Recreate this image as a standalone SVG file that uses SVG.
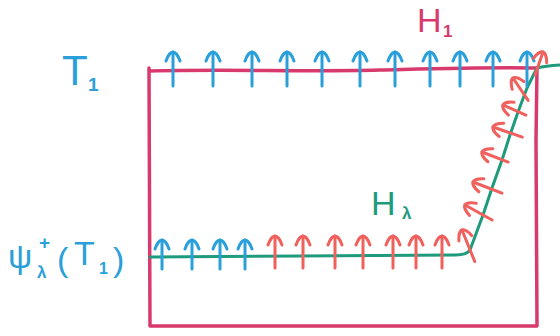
<svg xmlns="http://www.w3.org/2000/svg" xmlns:xlink="http://www.w3.org/1999/xlink" width="560" height="336" viewBox="0 0 560 336">
  <style>
    .ln { fill: none; stroke-linecap: round; stroke-linejoin: round; }
    .pink { stroke: #d93a6d; stroke-width: 3.5; }
    .green { stroke: #1e9a7c; stroke-width: 3; }
    .blue { stroke: #2b9fd9; stroke-width: 3; }
    .red { stroke: #f0605c; stroke-width: 3; }
    .lbl { font-family: "Liberation Sans", Arial, sans-serif; }
    .sub { font-weight: bold; }
    .tb { fill: #2b9fd9; }
    .tp { fill: #d93a6d; }
    .tg { fill: #1e9a7c; }
  </style>
  <defs>
    <!-- arrowhead with its tip at the origin, pointing up -->
    <path id="head" d="M-7,9 C-5,3 -2,0 0,0 C2,0 5,3 7,9"/>
    <!-- upward arrows of three lengths, tip at origin -->
    <g id="upLong"><use xlink:href="#head"/><line x1="0" y1="0" x2="0" y2="34"/></g>
    <g id="upShort"><use xlink:href="#head"/><line x1="0" y1="0" x2="0" y2="29"/></g>
    <g id="upMid"><use xlink:href="#head"/><line x1="0" y1="0" x2="0" y2="32"/></g>
  </defs>

  <rect width="560" height="336" fill="#ffffff"/>

  <!-- region boundary H1 -->
  <g id="H1-box" class="ln pink">
    <path d="M150,71 C230,69 300,72 380,70 S490,67 537,68 L536,140 L537,326 L150,326 L149,68"/>
  </g>

  <!-- level curve H_lambda -->
  <g id="connectors" class="ln green">
    <path d="M150,257 L300,256 L455,255 Q467,255 470,250 L483,215 L492,188 L502,160 L510,135 L518,112 L527,88 L537,68 Q545,66 560,65"/>
  </g>

  <!-- vector field along T1 (top edge) -->
  <g id="T1-arrows" class="ln blue">
    <use xlink:href="#upLong" transform="translate(173,52)"/>
    <use xlink:href="#upLong" transform="translate(213,52)"/>
    <use xlink:href="#upLong" transform="translate(252,52)"/>
    <use xlink:href="#upLong" transform="translate(287,52)"/>
    <use xlink:href="#upLong" transform="translate(322,52)"/>
    <use xlink:href="#upLong" transform="translate(360,52)"/>
    <use xlink:href="#upLong" transform="translate(395,52)"/>
    <use xlink:href="#upLong" transform="translate(430,52)"/>
    <use xlink:href="#upLong" transform="translate(460,52)"/>
    <use xlink:href="#upLong" transform="translate(493,52)"/>
    <use xlink:href="#upLong" transform="translate(527,52)"/>
  </g>

  <!-- image of T1 under the flow -->
  <g id="psiT1-arrows" class="ln blue">
    <use xlink:href="#upShort" transform="translate(162,240)"/>
    <use xlink:href="#upShort" transform="translate(192,240)"/>
    <use xlink:href="#upShort" transform="translate(220,240)"/>
    <use xlink:href="#upShort" transform="translate(245,240)"/>
  </g>

  <!-- vector field along H_lambda -->
  <g id="Hl-arrows" class="ln red">
    <use xlink:href="#upMid" transform="translate(275,236)"/>
    <use xlink:href="#upMid" transform="translate(303,236)"/>
    <use xlink:href="#upMid" transform="translate(335,236)"/>
    <use xlink:href="#upMid" transform="translate(363,236)"/>
    <use xlink:href="#upMid" transform="translate(393,236)"/>
    <use xlink:href="#upMid" transform="translate(416,236)"/>
    <use xlink:href="#upMid" transform="translate(442,236)"/>
    <g transform="translate(462,230) rotate(-22)"><use xlink:href="#head"/><line x1="0" y1="0" x2="0" y2="34"/></g>
    <g transform="translate(465,205) rotate(-61)"><use xlink:href="#head"/><line x1="0" y1="0" x2="0" y2="31"/></g>
    <g transform="translate(473,182) rotate(-69)"><use xlink:href="#head"/><line x1="0" y1="0" x2="0" y2="31"/></g>
    <g transform="translate(482,152) rotate(-69)"><use xlink:href="#head"/><line x1="0" y1="0" x2="0" y2="28"/></g>
    <g transform="translate(493,127) rotate(-71)"><use xlink:href="#head"/><line x1="0" y1="0" x2="0" y2="31"/></g>
    <g transform="translate(503,105) rotate(-66)"><use xlink:href="#head"/><line x1="0" y1="0" x2="0" y2="25"/></g>
    <g transform="translate(513,78) rotate(-34)"><use xlink:href="#head"/><line x1="0" y1="0" x2="0" y2="27"/></g>
    <g transform="translate(543,52) rotate(19)"><use xlink:href="#head"/><line x1="0" y1="0" x2="0" y2="24"/></g>
  </g>

  <!-- labels -->
  <g id="label-T1" class="lbl tb">
    <text x="62" y="85" font-size="42">T</text>
    <text class="sub" x="88" y="91" font-size="19">1</text>
  </g>
  <g id="label-H1" class="lbl tp">
    <text x="417" y="32" font-size="34">H</text>
    <text class="sub" x="443" y="37" font-size="17">1</text>
  </g>
  <g id="label-Hl" class="lbl tg">
    <text x="371" y="215" font-size="34">H</text>
    <text class="sub" x="402" y="219" font-size="17">λ</text>
  </g>
  <g id="label-psiT1" class="lbl tb">
    <text x="8" y="268" font-size="34">ψ</text>
    <text class="sub" x="39" y="249" font-size="19">+</text>
    <text class="sub" x="37" y="278" font-size="17">λ</text>
    <text x="57" y="271" font-size="34">(</text>
    <text x="74" y="265" font-size="34">T</text>
    <text class="sub" x="99" y="274" font-size="16">1</text>
    <text x="113" y="271" font-size="34">)</text>
  </g>
</svg>
